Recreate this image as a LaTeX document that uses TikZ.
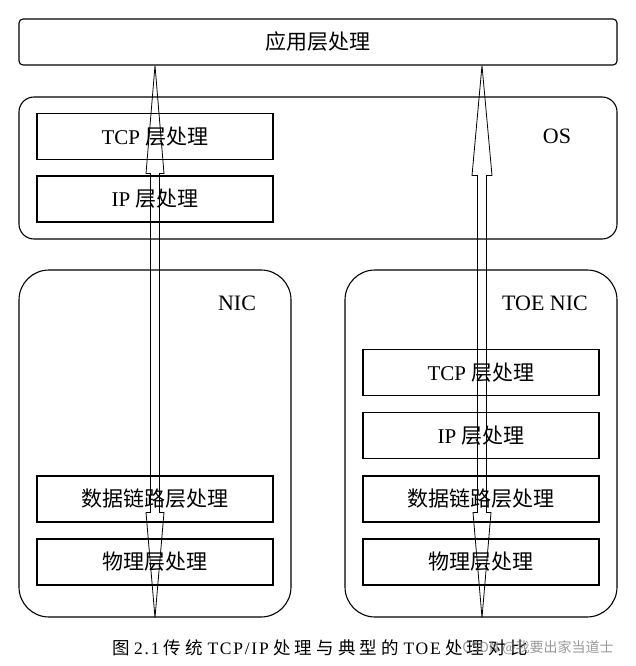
\documentclass[tikz,border=0pt]{standalone}
\usepackage{fontspec}
\setmainfont{Liberation Serif}
\newfontfamily\cjk{Noto Sans CJK SC}
\newfontfamily\capcjk[LetterSpace=24]{Noto Sans CJK SC}
\newfontfamily\caplat[LetterSpace=10]{Liberation Serif}
\usetikzlibrary{calc}
\begin{document}
\begin{tikzpicture}[x=1pt,y=-1pt,
  box/.style={draw, line width=1.3pt, inner sep=0pt, font=\fontsize{21}{24}\selectfont},
  layer/.style={box, minimum width=236pt, minimum height=46pt},
  frame/.style={draw, line width=1.1pt, inner sep=0pt, rounded corners=#1},
  lbl/.style={font=\fontsize{22}{24}\selectfont, inner sep=0pt},
  arrowline/.style={draw, line width=0.8pt, line join=miter}
]
\useasboundingbox (0,0) rectangle (636,666);

% frames
\node[frame=4pt, minimum width=598pt, minimum height=46pt, font=\fontsize{21}{24}\selectfont] (app) at (318,42) {\cjk 应用层处理};
\node[frame=15pt, minimum width=598pt, minimum height=142pt] (os) at (318,168) {};
\node[frame=30pt, minimum width=272pt, minimum height=347pt] (nic) at (155,443.5) {};
\node[frame=30pt, minimum width=272pt, minimum height=347pt] (toe) at (481,443.5) {};

% labels
\node[lbl] (oslbl) at (557,136) {OS};
\node[lbl] (niclbl) at (237,303) {NIC};
\node[lbl] (toelbl) at (545,303) {TOE NIC};

% OS layers
\node[layer] (ostcp) at (155,136.5) {TCP {\cjk 层处理}};
\node[layer] (osip) at (155,199) {IP {\cjk 层处理}};

% NIC layers
\node[layer] (nicdl) at (155,499) {\cjk 数据链路层处理};
\node[layer] (nicph) at (155,562) {\cjk 物理层处理};

% TOE NIC layers
\node[layer] (toetcp) at (481,372.5) {TCP {\cjk 层处理}};
\node[layer] (toeip) at (481,435.5) {IP {\cjk 层处理}};
\node[layer] (toedl) at (481,499) {\cjk 数据链路层处理};
\node[layer] (toeph) at (481,562) {\cjk 物理层处理};

% arrows
\coordinate (LT) at (app.south -| 155,0);
\coordinate (LB) at (nic.south -| 155,0);
\coordinate (RT) at (app.south -| 482,0);
\coordinate (RB) at (toe.south -| 482,0);

\draw[arrowline] (LT) -- ++(9,108) -- ++(-4.5,0) -- ($(LB)+(4.5,-105)$) -- ++(4.5,0) -- (LB)
  -- ++(-9,-105) -- ++(4.5,0) -- ($(LT)+(-4.5,108)$) -- ++(-4.5,0) -- cycle;
\draw[arrowline] (RT) -- ++(10,110) -- ++(-5.5,0) -- ($(RB)+(4.5,-105)$) -- ++(4.5,0) -- (RB)
  -- ++(-9,-105) -- ++(4.5,0) -- ($(RT)+(-4.5,110)$) -- ++(-5.5,0) -- cycle;

% caption
\node[font=\fontsize{17.5}{19}\selectfont, inner sep=0pt] (cap) at (320,648) {{\capcjk 图}\ {\caplat 2.1}\ {\capcjk 传统}\ {\caplat TCP/IP}\ {\capcjk 处理与典型的}\ {\caplat TOE}\ {\capcjk 处理对比}};
\node[font=\fontsize{14}{16}\selectfont, text=gray, opacity=0.8, inner sep=0pt] (wm) at (538,648) {\cjk CSDN @我要出家当道士};
\end{tikzpicture}
\end{document}
